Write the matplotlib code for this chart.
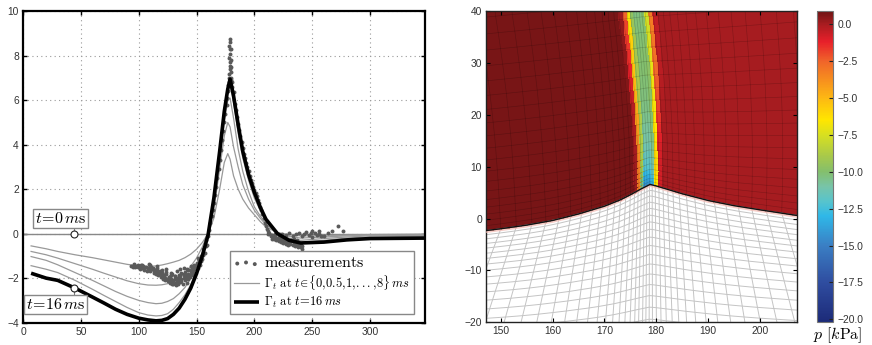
#!/usr/bin/env python3
"""Interface profile and pressure field, two panel figure."""

import matplotlib
matplotlib.use("Agg")
import matplotlib.pyplot as plt
from matplotlib.colors import LinearSegmentedColormap, Normalize
from matplotlib.cm import ScalarMappable
import numpy as np

plt.rcParams["font.family"] = ["Liberation Sans", "DejaVu Sans"]
plt.rcParams["mathtext.fontset"] = "cm"

# left panel
curve_x = [7, 20, 30, 45, 60, 70, 80, 90, 100, 108, 115, 120, 125, 130, 135, 140, 145, 150, 155, 160, 165, 170, 174,
           177, 179, 182, 186, 190, 195, 200, 205, 210, 220, 230, 240, 260, 280, 300, 347]
gamma_a = [-0.55, -0.68, -0.8, -0.95, -1.08, -1.18, -1.28, -1.38, -1.45, -1.47, -1.45, -1.41, -1.35, -1.28, -1.2, -1.08,
           -0.92, -0.7, -0.4, 0, 0.7, 2, 3.2, 3.6, 3.35, 2.6, 2, 1.55, 1.15, 0.85, 0.55, 0.3, 0.05, -0.05, -0.1, -0.1,
           -0.07, -0.04, -0.02]
gamma_b = [-0.8, -0.95, -1.1, -1.35, -1.6, -1.78, -1.95, -2.12, -2.25, -2.31, -2.32, -2.3, -2.25, -2.15, -2.0, -1.78,
           -1.47, -1.1, -0.6, 0.05, 1.1, 2.9, 4.4, 5.0, 4.8, 3.9, 3.0, 2.2, 1.55, 1.05, 0.7, 0.4, 0.05, -0.12, -0.2,
           -0.15, -0.1, -0.06, -0.04]
gamma_c = [-1.03, -1.2, -1.4, -1.75, -2.1, -2.35, -2.6, -2.82, -3.0, -3.1, -3.15, -3.13, -3.05, -2.92, -2.7, -2.42,
           -2.02, -1.5, -0.85, 0.0, 1.4, 3.3, 5, 6, 6.1, 5.2, 3.8, 2.8, 1.9, 1.2, 0.8, 0.45, 0, -0.2, -0.3, -0.22,
           -0.15, -0.1, -0.08]
gamma_d = [-1.44, -1.6, -1.75, -2.1, -2.5, -2.78, -3.05, -3.32, -3.55, -3.66, -3.7, -3.68, -3.6, -3.4, -3.1, -2.75,
           -2.3, -1.7, -0.95, -0.05, 1.5, 3.5, 5.3, 6.4, 6.75, 5.9, 4.5, 3.4, 2.4, 1.6, 1.05, 0.55, 0.0, -0.27, -0.38,
           -0.3, -0.2, -0.15, -0.12]
gamma_16 = [-1.78, -2, -2.1, -2.45, -2.85, -3.12, -3.4, -3.63, -3.8, -3.88, -3.92, -3.9, -3.82, -3.63, -3.35, -2.95,
            -2.45, -1.8, -1.0, -0.05, 1.6, 3.7, 5.5, 6.5, 6.95, 6.2, 4.9, 3.7, 2.65, 1.85, 1.2, 0.65, 0, -0.3, -0.42,
            -0.38, -0.28, -0.22, -0.2]

meas_x = [93, 95, 96, 97, 98, 99, 100, 101, 102, 103, 104, 105, 106, 107, 108, 109, 110, 111, 112, 113,
          114, 115, 116, 117, 118, 119, 120, 121, 122, 123, 124, 125, 126, 127, 128, 129, 130, 131, 132, 133,
          134, 135, 136, 137, 138, 139, 140, 141, 142, 143, 144, 145, 146, 147, 148, 149, 150, 151, 152, 153,
          154, 155, 156, 157, 158, 159, 160, 118, 122, 126, 128, 131, 134, 137, 140, 143, 146, 115, 119, 124,
          129, 133, 136, 139, 142, 145, 148, 151, 104, 110, 103, 116, 122, 130, 136, 143,
          96, 99, 102, 105, 108, 111, 113, 115, 117, 119, 121, 123, 125, 127, 129, 131, 133, 135, 137, 139, 141, 143,
          145, 147, 149, 150, 152, 154, 156, 158, 112, 116, 120, 124, 128, 132, 136, 140, 144, 148, 127, 131, 135, 139,
          161, 162, 163, 164, 165, 166, 167, 168, 169, 170, 171, 172, 173, 174, 175, 176, 176.5, 177, 177.5,
          178.5, 178.5, 178.5, 179, 179, 179, 179.5, 179.5, 179.5, 178.5, 179, 179.5, 179, 178.5, 179, 179.5, 179, 180,
          180.5, 181, 182, 183, 184, 185, 186, 187, 188, 189, 190, 191, 192, 193, 194, 195, 196, 197, 198, 199, 200,
          201, 202, 203, 204, 205, 206, 207, 208,
          209, 210, 211, 212, 213, 214, 215, 216, 217, 218, 219, 220, 221, 222, 223, 224, 225, 226, 227, 228, 229,
          230, 231, 232, 233, 234, 235, 236, 237, 238, 239, 240, 241, 241,
          212, 216, 220, 223, 226, 229, 232, 235, 238, 240, 214, 218, 222, 226, 230, 234, 237,
          215, 218, 221, 224, 227, 230, 233, 236, 239, 241, 243, 245, 247, 249, 250, 252, 254, 256, 258, 260,
          250, 256, 264, 267, 272, 277]
meas_y = [-1.45, -1.48, -1.42, -1.5, -1.46, -1.52, -1.48, -1.58, -1.5, -1.55, -1.45, -1.62, -1.5, -1.68, -1.55, -1.35, -1.7, -1.48, -1.6, -1.75,
          -1.65, -1.8, -1.55, -1.85, -1.7, -1.95, -1.78, -2.05, -1.88, -2.1, -1.72, -2.15, -1.95, -2.2, -2.02, -2.28, -2.1, -1.9, -2.3, -2.12,
          -2.25, -1.85, -2.18, -2.02, -2.25, -1.8, -2.1, -1.95, -2.2, -1.65, -1.95, -1.8, -1.55, -1.85, -1.6, -1.75, -1.3, -1.55, -1.2, -1.4,
          -1.0, -1.15, -0.7, -0.85, -0.3, -0.5, -0.1, -1.75, -1.85, -1.95, -1.75, -1.9, -2.0, -1.75, -1.85, -1.9, -1.7, -1.62, -1.72, -1.6,
          -1.8, -1.7, -1.6, -1.55, -1.6, -1.45, -1.4, -1.1, -1.55, -1.42, -1.4, -1.45, -2.0, -2.25, -2.15, -2.05,
          -1.38, -1.42, -1.43, -1.52, -1.6, -1.6, -1.68, -1.72, -1.75, -1.82, -1.92, -1.98, -2.05, -2.08, -2.15, -2.2, -2.05, -2.12, -2.12, -1.98, -2.0, -1.82,
          -1.7, -1.72, -1.45, -1.45, -1.32, -1.22, -0.95, -0.55, -1.55, -1.62, -1.65, -1.82, -1.85, -2.02, -1.92, -1.72, -1.62, -1.52, -1.95, -2.05, -1.98, -1.88,
          0.15, 0.5, 0.8, 1.05, 1.4, 1.75, 2.1, 2.5, 2.9, 3.3, 3.75, 4.2, 4.6, 5.0, 5.4, 5.8, 6.1, 6.4, 6.7,
          6.8, 7.0, 7.2, 7.4, 7.55, 7.7, 7.0, 7.25, 7.5, 7.9, 8.1, 7.8, 8.3, 8.45, 8.6, 8.3, 8.75, 6.9,
          6.8, 6.6, 6.35, 5.85, 5.55, 5.25, 4.95, 4.65, 4.4, 4.1, 3.85, 3.6, 3.4, 3.2, 3.0, 2.8, 2.6, 2.42, 2.28, 2.12, 1.98,
          1.82, 1.68, 1.52, 1.38, 1.22, 1.05, 0.9, 0.7,
          0.5, 0.35, 0.2, 0.1, 0.05, -0.05, -0.22, -0.1, -0.25, -0.15, -0.3, -0.2, -0.32, -0.25, -0.38, -0.3, -0.42, -0.3, -0.45, -0.35, -0.5,
          -0.38, -0.45, -0.35, -0.5, -0.42, -0.55, -0.45, -0.48, -0.58, -0.5, -0.62, -0.68, -0.55,
          -0.02, -0.12, -0.28, -0.18, -0.35, -0.42, -0.3, -0.4, -0.45, -0.52, -0.1, -0.2, -0.1, -0.22, -0.28, -0.25, -0.3,
          -0.05, -0.02, -0.1, 0.0, -0.05, 0.02, -0.1, -0.03, 0.05, -0.12, 0.0, 0.08, -0.08, 0.03, -0.15, 0.05, -0.08, -0.02, -0.1, -0.12,
          0.12, 0.12, 0.05, 0.1, 0.33, 0.1]

# right panel, interface and band
iface_x = [140, 147.2, 150, 155, 160, 165, 170, 173, 175, 177, 178.8, 180, 182, 185, 190, 195, 200, 207.2, 216]
iface_y = [-3.4, -2.3, -1.95, -1.25, -0.35, 0.9, 2.4, 3.6, 4.6, 5.7, 6.6, 6.3, 5.7, 4.8, 3.5, 2.5, 1.7, 0.6, -0.3]
band_y = [6.5, 10, 15, 20, 25, 30, 35, 40]
band_x = [178.6, 178.55, 178.45, 178.2, 177.9, 177.5, 177.05, 176.5]
band_halfwidth = [2.1, 2.2, 2.35, 2.5, 2.65, 2.8, 2.9, 3.0]
band_pmin = [-14.5, -12.0, -11.0, -10.5, -10.2, -10.0, -10.1, -10.3]
shape_off = [0, 0.3, 0.45, 0.62, 0.8, 1.0, 1.3]
shape_val = [1, 1, 0.9, 0.66, 0.34, 0.08, 0]
p_left = 0.72
p_right = 0.0

mesh_x = [138, 141, 144, 147, 150, 153, 156, 158.7, 161.2, 163.5, 165.6, 167.5, 169.2, 170.7, 172, 173.1, 174.1,
          175, 175.8, 176.5, 177.1, 177.7, 178.2, 178.7, 179.2, 179.8, 180.5, 181.3, 182.2, 183.2, 184.4, 185.8,
          187.4, 189.2, 191.2, 193.4, 195.8, 198.4, 201.2, 204.2, 207.4, 210.8, 214, 218]
depth_up = [0, 1, 2.1, 3.3, 4.7, 6.2, 7.9, 9.8, 11.8, 14, 16.3, 18.7, 21.2, 23.8, 26.5, 29.3, 32.2, 35.2, 38.3, 41.5, 44.8, 48]
depth_low = [0, 0.9, 1.8, 2.8, 3.8, 4.9, 6.0, 7.2, 8.5, 9.9, 11.4, 13, 14.7, 16.5, 18.4, 20.4, 22.5, 24.7, 27]

cbar_pos = [-20, -17.5, -15, -13, -12, -11, -10, -9, -7.5, -6.5, -5, -2.5, -1.2, 0, 0.9]
cbar_col = ["#1c2a78", "#2f4da0", "#3a7fc4", "#2fb8e8", "#58c4cc", "#78c4a8", "#84bf6c", "#a6c84c", "#d8e020",
            "#ffe600", "#fdb813", "#f0642a", "#e8202a", "#a81c20", "#701414"]
cbar_ticks = [0, -2.5, -5, -7.5, -10, -12.5, -15, -17.5, -20]

W, H = 872, 345
TICK = "#333333"


def axes_px(fig, x0, x1, y0, y1):
    return fig.add_axes([x0 / W, 1 - y1 / H, (x1 - x0) / W, (y1 - y0) / H])


def plot_profile(ax):
    ax.plot([0, 348], [0, 0], color="#888888", lw=1.0, zorder=2)
    grey = None
    for g in [gamma_a, gamma_b, gamma_c, gamma_d]:
        grey, = ax.plot(curve_x, g, color="#999999", lw=0.9, zorder=2)
    dots = ax.scatter(meas_x, meas_y, s=8, color="#5a5a5a", lw=0, zorder=3)
    thick, = ax.plot(curve_x, gamma_16, color="black", lw=2.6, zorder=4, solid_capstyle="butt")

    ax.set_xlim(0, 347.5)
    ax.set_ylim(-4, 10)
    ax.set_xticks([0, 50, 100, 150, 200, 250, 300])
    ax.set_yticks([-4, -2, 0, 2, 4, 6, 8, 10])
    ax.set_yticklabels(["\u22124", "\u22122", "0", "2", "4", "6", "8", "10"])
    ax.grid(True, color="#999999", ls=(0, (1, 3)), lw=0.8)
    ax.set_axisbelow(True)
    ax.tick_params(direction="in", top=True, right=True, length=3, width=1, labelsize=7.4,
                   labelcolor=TICK, pad=3)
    for s in ax.spines.values():
        s.set_linewidth(1.6)

    box = dict(boxstyle="square,pad=0.12", fc="white", ec="#888888", lw=1)
    ax.plot([44.5, 44.5], [0, 0.3], color="#777777", lw=0.8, zorder=5)
    ax.plot([44.5, 44.5], [-2.45, -2.8], color="#777777", lw=0.8, zorder=5)
    ax.plot([44.5, 44.5], [0, -2.45], ls="none", marker="o", ms=5, mfc="white", mec="#222222", mew=0.8, zorder=6)
    ax.text(32.3, 0.69, r"$t\!=\!0\,m\mathrm{s}$", fontsize=11.5, ha="center", va="center", bbox=box, zorder=6)
    ax.text(28.5, -3.17, r"$t\!=\!16\,m\mathrm{s}$", fontsize=11.5, ha="center", va="center", bbox=box, zorder=6)

    labels = [r"$\mathrm{measurements}$",
              r"$\mathit{\Gamma}_t\ \mathrm{at}\ t\!\in\!\{0,\!0.5,\!1,\!...,\!8\}\,ms$",
              r"$\mathit{\Gamma}_t\ \mathrm{at}\ t\!=\!16\,ms$"]
    leg = ax.legend([dots, grey, thick], labels, loc="lower right",
                    bbox_to_anchor=(0.972, 0.028), borderaxespad=0, fontsize=9, fancybox=False,
                    framealpha=1, edgecolor="#888888", scatterpoints=3, handlelength=2.0,
                    labelspacing=0.25, handletextpad=0.45, borderpad=0.3)
    leg.get_texts()[0].set_fontsize(11.5)
    leg.get_frame().set_linewidth(1)
    leg.set_zorder(7)


def plot_field(ax, cmap, norm):
    mx = np.array(mesh_x)

    # upper mesh: rows follow the interface, columns follow the band
    du = np.array(depth_up)[:, None]
    yi = np.interp(mx, iface_x, iface_y)[None, :]
    decay = np.exp(-du / 15.0)
    yu = yi * decay + du + 0.1 * (mx - 178) * (1 - decay)
    extra = np.interp(mx, [147, 178, 207], [0.06, 0.0, -0.03])
    xu = mx + np.interp(yu, band_y, band_x) - band_x[0] - extra * du

    xc = 0.25 * (xu[:-1, :-1] + xu[1:, :-1] + xu[:-1, 1:] + xu[1:, 1:])
    yc = 0.25 * (yu[:-1, :-1] + yu[1:, :-1] + yu[:-1, 1:] + yu[1:, 1:])
    centre = np.interp(yc, band_y, band_x)
    off = (xc - centre) / np.interp(yc, band_y, band_halfwidth)
    side = np.where(off < 0, p_left, p_right)
    pmin = np.interp(yc, band_y, band_pmin)
    p = side + (pmin - side) * np.interp(np.abs(off), shape_off, shape_val)
    ax.pcolormesh(xu, yu, p, cmap=cmap, norm=norm, shading="flat", edgecolors="face", linewidth=0.1, zorder=1)
    ax.plot(xu, yu, color="black", lw=0.45, alpha=0.2, zorder=2)
    ax.plot(xu.T, yu.T, color="black", lw=0.45, alpha=0.2, zorder=2)

    # lower mesh
    dl = np.array(depth_low)[:, None]
    yl = yi * np.exp(-dl / 30.0) - dl
    xl = mx + 0.012 * dl * (mx - 179)
    ax.plot(xl, yl, color="#c4c4c4", lw=0.7, zorder=1)
    ax.plot(xl.T, yl.T, color="#c4c4c4", lw=0.7, zorder=1)

    ax.plot(iface_x, np.array(iface_y) - 0.25, color="#f4b8b0", lw=1.6, alpha=0.7, zorder=3)
    ax.plot(iface_x, iface_y, color="#111111", lw=1.0, zorder=4)

    ax.set_xlim(147.2, 207.2)
    ax.set_ylim(-20, 40)
    ax.set_xticks([150, 160, 170, 180, 190, 200])
    ax.set_yticks([-20, -10, 0, 10, 20, 30, 40])
    ax.set_yticklabels(["\u221220", "\u221210", "0", "10", "20", "30", "40"])
    ax.tick_params(direction="in", top=True, right=True, length=3, width=0.8, labelsize=7.4,
                   labelcolor=TICK, pad=3)
    for s in ax.spines.values():
        s.set_linewidth(1.0)
        s.set_edgecolor("#222222")


def main():
    fig = plt.figure(figsize=(W / 100, H / 100), dpi=100)

    plot_profile(axes_px(fig, 23, 425, 11.3, 322.6))

    norm = Normalize(vmin=-20.2, vmax=0.86)
    pos = [(v - norm.vmin) / (norm.vmax - norm.vmin) for v in cbar_pos]
    pos[0], pos[-1] = 0.0, 1.0
    cmap = LinearSegmentedColormap.from_list("field", list(zip(pos, cbar_col)), N=512)
    plot_field(axes_px(fig, 486.3, 797.3, 11.3, 322.3), cmap, norm)

    cax = axes_px(fig, 817.3, 833.3, 11.3, 322.3)
    cb = fig.colorbar(ScalarMappable(norm=norm, cmap=cmap), cax=cax, ticks=cbar_ticks)
    cb.ax.set_yticklabels(["0.0", "\u22122.5", "\u22125.0", "\u22127.5", "\u221210.0", "\u221212.5", "\u221215.0",
                           "\u221217.5", "\u221220.0"])
    cb.ax.tick_params(direction="in", length=3, width=0.8, labelsize=7.4, labelcolor=TICK, pad=3, color="#222222")
    cb.outline.set_edgecolor("#777777")
    cb.outline.set_linewidth(0.8)
    fig.text(838 / W, 1 - 335.5 / H, r"$p\ [k\mathrm{Pa}]$", fontsize=11.5, ha="center", va="center")

    fig.savefig("out.png", dpi=100)
    plt.close(fig)


if __name__ == "__main__":
    main()
